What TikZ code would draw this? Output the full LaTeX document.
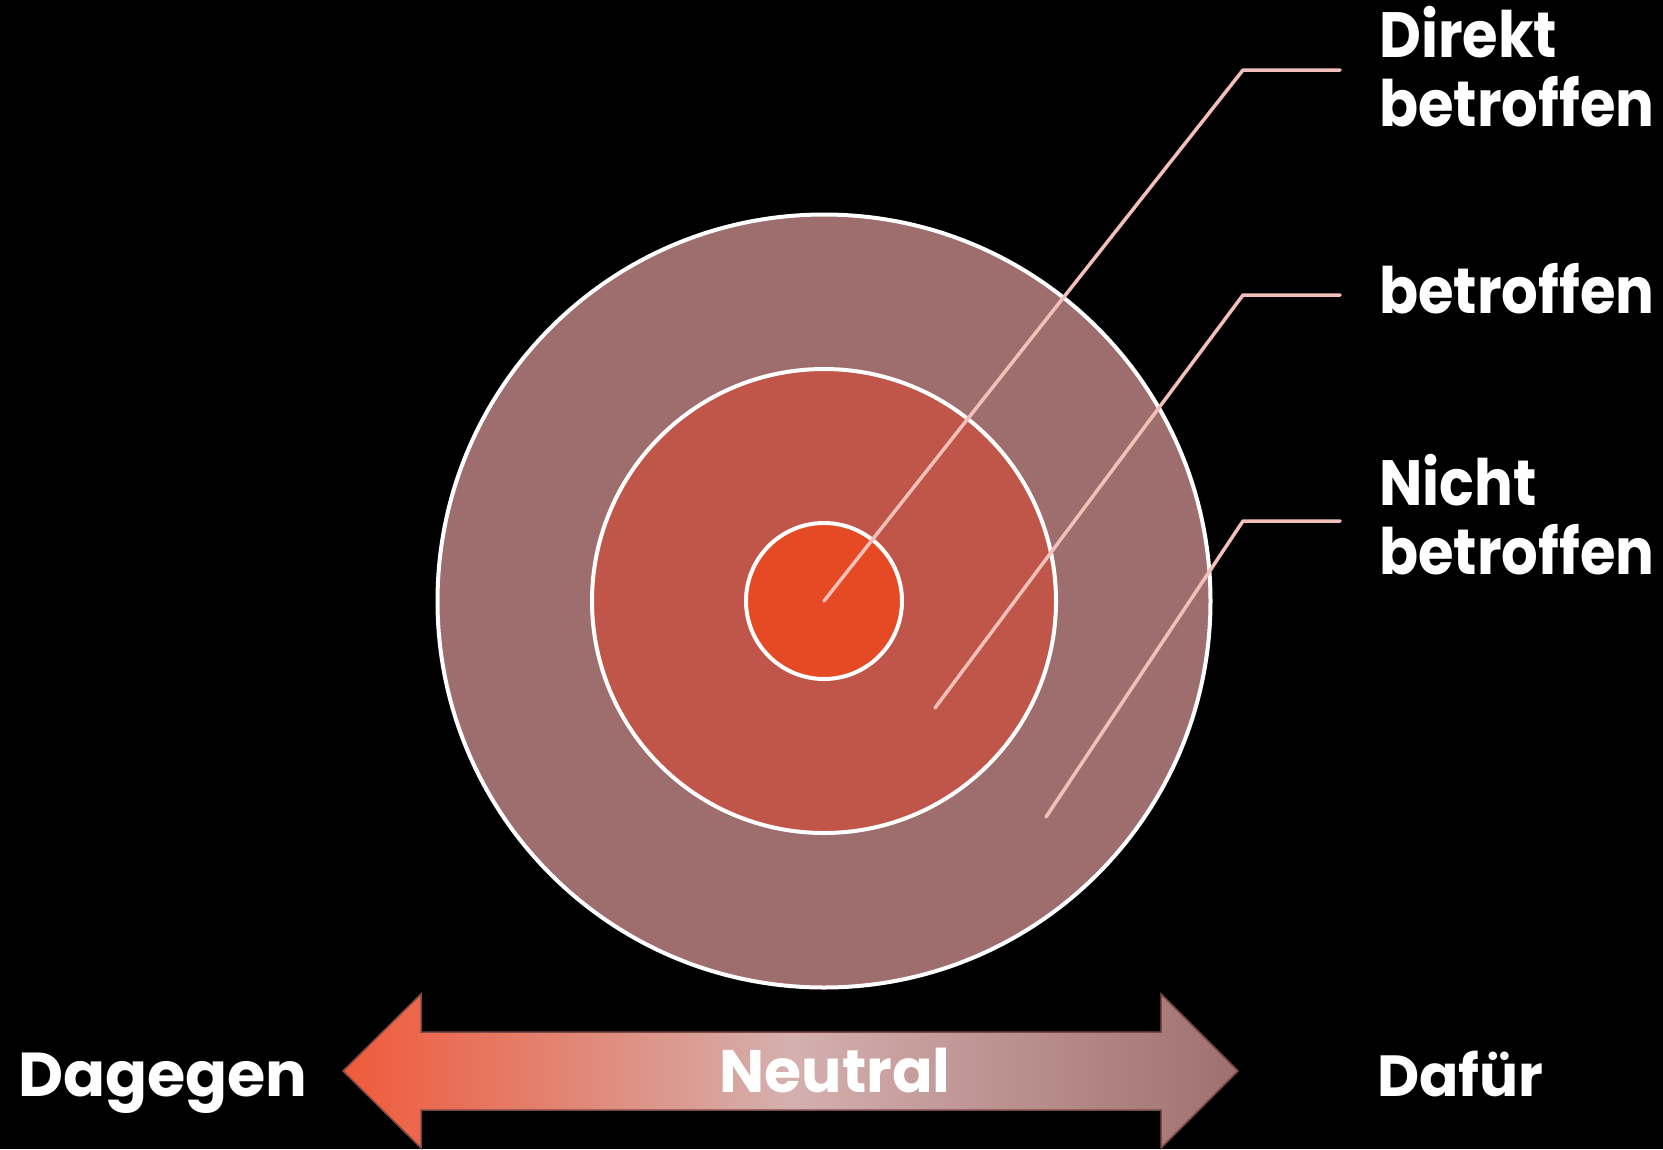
\documentclass[tikz,border=0pt]{standalone}
\usepackage{fontspec}
\setmainfont{Poppins}
\newfontfamily\lblfont{Poppins}[FakeStretch=0.9]
\definecolor{ringout}{HTML}{9E6E6E}
\definecolor{ringmid}{HTML}{C0554A}
\definecolor{ringin}{HTML}{E64A25}
\definecolor{leader}{HTML}{F2C0B8}
\definecolor{arrL}{HTML}{F05A3A}
\definecolor{arrM}{HTML}{D4B0AE}
\definecolor{arrR}{HTML}{A07070}
\definecolor{arrE}{HTML}{7A4A44}
\begin{document}
\begin{tikzpicture}[x=1pt,y=-1pt,
  ring/.style={circle,draw=white,line width=4pt,inner sep=0pt,minimum size=#1},
  leadline/.style={draw=leader,line width=3.5pt,line cap=round,line join=round},
  lbl/.style={text=white,font=\lblfont\bfseries\fontsize{64}{69}\selectfont,inner sep=0pt,align=left,anchor=north west},
  axlbl/.style={text=white,font=\bfseries\fontsize{#1}{66}\selectfont,inner sep=0pt,anchor=base west}]
\fill[black] (0,0) rectangle (1663,1149);
\useasboundingbox (0,0) rectangle (1663,1149);
% rings
\node[ring=773pt,fill=ringout] (outer) at (824,601) {};
\node[ring=464pt,fill=ringmid] (mid) at (824,601) {};
\node[ring=156pt,fill=ringin] (inner) at (824,601) {};
% leader ends
\coordinate (p1) at (824,601);
\coordinate (p2) at (935,708);
\coordinate (p3) at (1046,817);
\coordinate (k1) at (1243,70);
\coordinate (k2) at (1243,295);
\coordinate (k3) at (1243,521);
\coordinate (e1) at (1340,70);
\coordinate (e2) at (1340,295);
\coordinate (e3) at (1340,521);
\draw[leadline] (p1) -- (k1) -- (e1);
\draw[leadline] (p2) -- (k2) -- (e2);
\draw[leadline] (p3) -- (k3) -- (e3);
% labels
\node[lbl] (l1) at (1379,6) {Direkt\\betroffen};
\node[lbl] (l2) at (1379,263) {betroffen};
\node[lbl] (l3) at (1379,454) {Nicht\\betroffen};
% arrow
\shade[left color=arrL,right color=arrR,middle color=arrM,draw=arrE,line width=1.5pt]
  (343,1071) -- (421,994) -- (421,1032) -- (1161,1032) -- (1161,994) -- (1238,1071)
  -- (1161,1148) -- (1161,1110) -- (421,1110) -- (421,1148) -- cycle;
\node[text=white,font=\bfseries\fontsize{60}{66}\selectfont,inner sep=0pt,anchor=base] (neutral) at (835,1092) {Neutral};
\node[axlbl=62] (dagegen) at (18,1096) {Dagegen};
\node[axlbl=58] (dafuer) at (1377,1096) {Dafür};
\end{tikzpicture}
\end{document}
